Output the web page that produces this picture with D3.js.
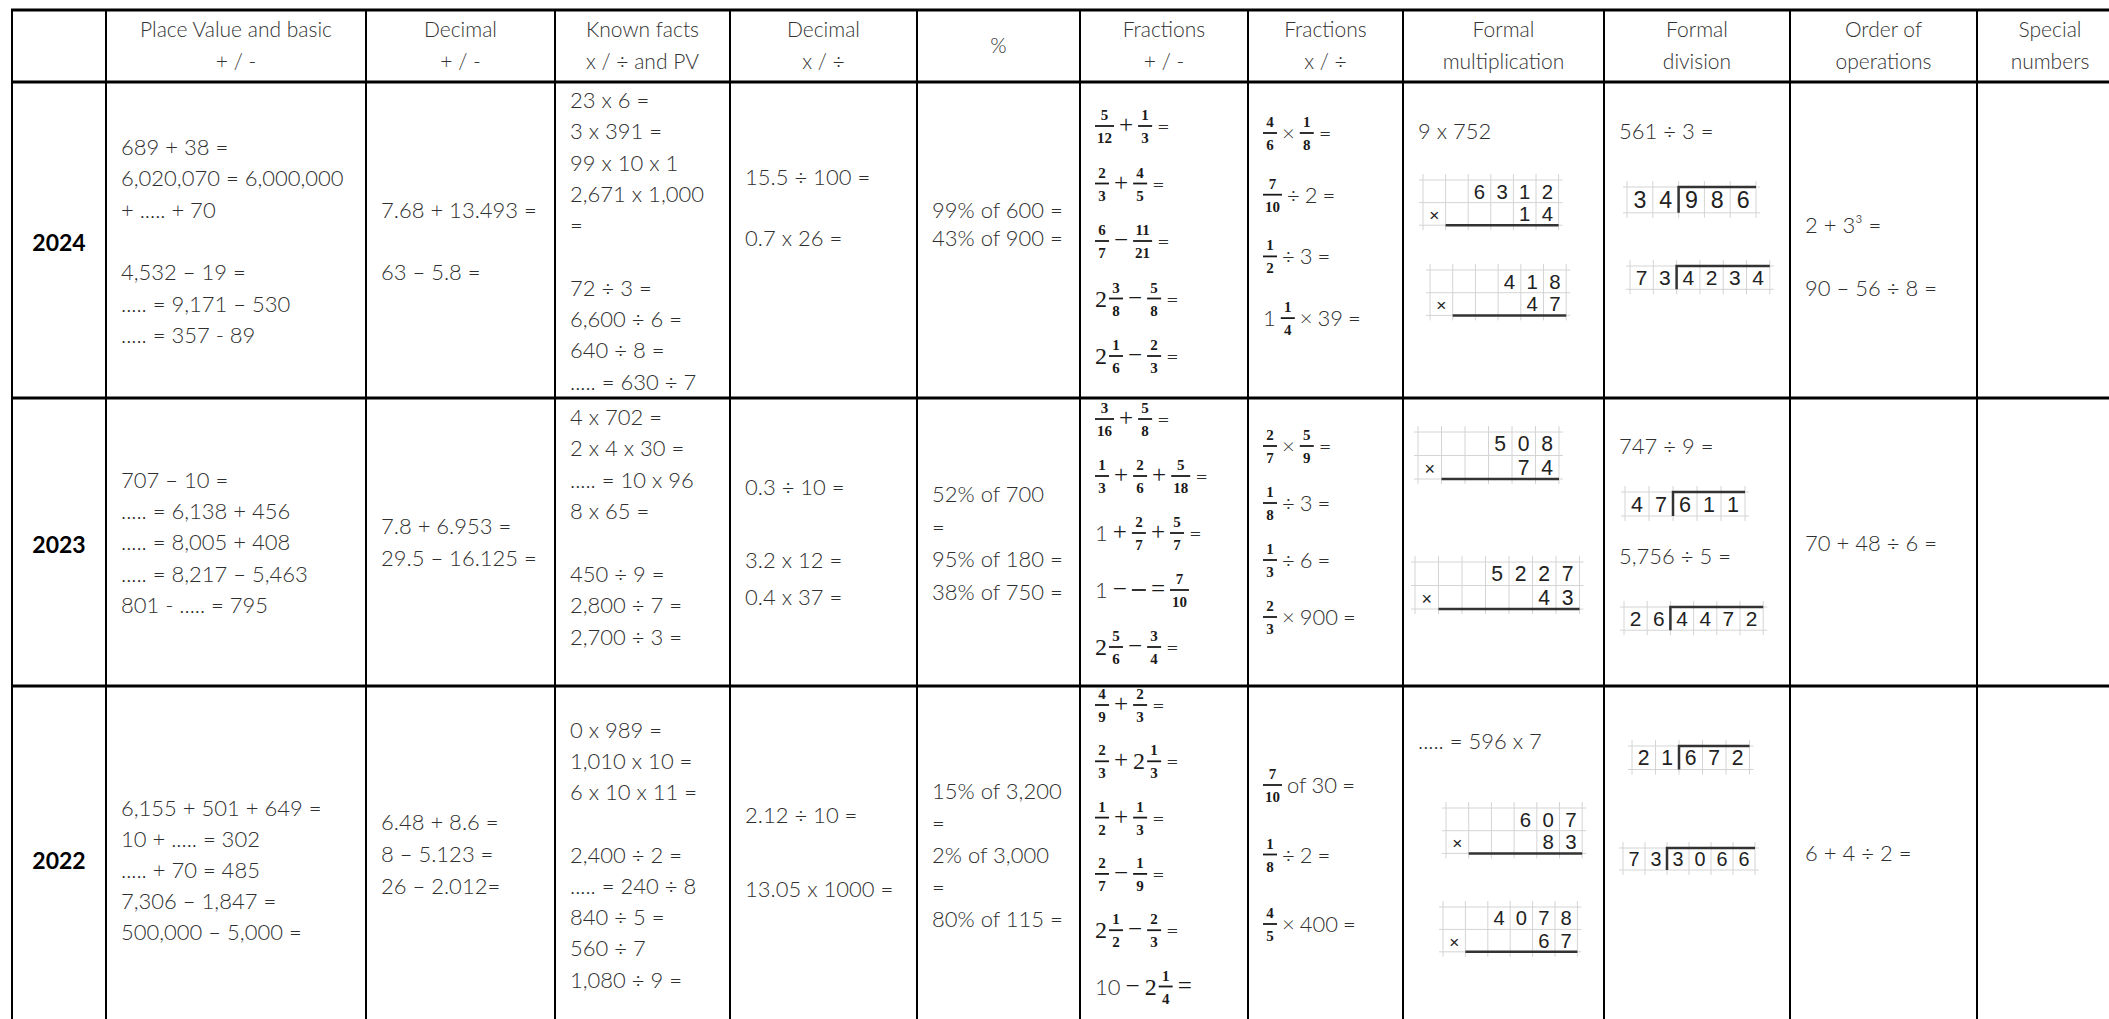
<!DOCTYPE html>
<html>
<head>
<meta charset="utf-8">
<title>Arithmetic questions by year</title>
<script src="https://cdn.jsdelivr.net/npm/d3@7/dist/d3.min.js"></script>
<style>
  body { margin: 0; background: #fff; }
  svg { display: block; }
  .body { font: 300 22px Lato, 'Open Sans', sans-serif; fill: #2f2f2f; }
  .head { font: 300 21px Lato, 'Open Sans', sans-serif; fill: #333; text-anchor: middle; }
  .year { font: 700 23px Lato, sans-serif; fill: #000; text-anchor: middle; }
  .frac { font: 700 15px 'Liberation Serif', serif; fill: #1a1a1a; text-anchor: middle; }
  .op { font: 400 25px 'Liberation Serif', serif; fill: #1a1a1a; }
  .whole { font: 400 24px 'Liberation Serif', serif; fill: #1a1a1a; }
  .gridnum { font: 400 20px 'Liberation Sans', Arial, sans-serif; fill: #222; text-anchor: middle; }
</style>
</head>
<body>
<div id="table"></div>
<script>
// ---- data ----
const years = ['2024', '2023', '2022'];

const headers = [
  [],
  ['Place Value and basic', '+ / -'],
  ['Decimal', '+ / -'],
  ['Known facts', 'x / ÷ and PV'],
  ['Decimal', 'x / ÷'],
  ['%'],
  ['Fractions', '+ / -'],
  ['Fractions', 'x / ÷'],
  ['Formal', 'multiplication'],
  ['Formal', 'division'],
  ['Order of', 'operations'],
  ['Special', 'numbers']
];

const placeValue = [
  ['689 + 38 =', '6,020,070 = 6,000,000', '+ ..... + 70', '', '4,532 – 19 =', '..... = 9,171 – 530', '..... = 357 - 89'],
  ['707 – 10 =', '..... = 6,138 + 456', '..... = 8,005 + 408', '..... = 8,217 – 5,463', '801 - ..... = 795'],
  ['6,155 + 501 + 649 =', '10 + ..... = 302', '..... + 70 = 485', '7,306 – 1,847 =', '500,000 – 5,000 =']
];

const decimalAddSub = [
  ['7.68 + 13.493 =', '', '63 – 5.8 ='],
  ['7.8 + 6.953 =', '29.5 – 16.125 ='],
  ['6.48 + 8.6 =', '8 – 5.123 =', '26 – 2.012=']
];

const knownFacts = [
  ['23 x 6 =', '3 x 391 =', '99 x 10 x 1', '2,671 x 1,000', '=', '', '72 ÷ 3 =', '6,600 ÷ 6 =', '640 ÷ 8 =', '..... = 630 ÷ 7'],
  ['4 x 702 =', '2 x 4 x 30 =', '..... = 10 x 96', '8 x 65 =', '', '450 ÷ 9 =', '2,800 ÷ 7 =', '2,700 ÷ 3 ='],
  ['0 x 989 =', '1,010 x 10 =', '6 x 10 x 11 =', '', '2,400 ÷ 2 =', '..... = 240 ÷ 8', '840 ÷ 5 =', '560 ÷ 7', '1,080 ÷ 9 =']
];

const decimalMulDiv = [
  ['15.5 ÷ 100 =', '', '0.7 x 26 ='],
  ['0.3 ÷ 10 =', '', '3.2 x 12 =', '0.4 x 37 ='],
  ['2.12 ÷ 10 =', '', '13.05 x 1000 =']
];

const percentages = [
  ['99% of 600 =', '43% of 900 ='],
  ['52% of 700', '=', '95% of 180 =', '38% of 750 ='],
  ['15% of 3,200', '=', '2% of 3,000', '=', '80% of 115 =']
];

// "a/b" fraction, "w_a/b" mixed number, "/" empty fraction, "=!" dark equals
const fractionAddSub = [
  ['5/12 + 1/3 =', '2/3 + 4/5 =', '6/7 − 11/21 =', '2_3/8 − 5/8 =', '2_1/6 − 2/3 ='],
  ['3/16 + 5/8 =', '1/3 + 2/6 + 5/18 =', '1 + 2/7 + 5/7 =', '1 − / =! 7/10', '2_5/6 − 3/4 ='],
  ['4/9 + 2/3 =', '2/3 + 2_1/3 =', '1/2 + 1/3 =', '2/7 − 1/9 =', '2_1/2 − 2/3 =', '10 − 2_1/4 =!']
];

const fractionMulDiv = [
  ['4/6 × 1/8 =', '7/10 ÷ 2 =', '1/2 ÷ 3 =', '1 1/4 × 39 ='],
  ['2/7 × 5/9 =', '1/8 ÷ 3 =', '1/3 ÷ 6 =', '2/3 × 900 ='],
  ['7/10 of 30 =', '1/8 ÷ 2 =', '4/5 × 400 =']
];

// arrays are column-method grids, one character per square
const formalMultiplication = [
  ['9 x 752', ['  6312', '×   14'], ['   418', '×   47']],
  [['   508', '×   74'], ['   5227', '×    43']],
  ['..... = 596 x 7', ['   607', '×   83'], ['  4078', '×   67']]
];

// "divisor|dividend" is a bus-stop grid
const formalDivision = [
  ['561 ÷ 3 =', '34|986', '73|4234'],
  ['747 ÷ 9 =', '47|611', '5,756 ÷ 5 =', '26|4472'],
  ['21|672', '73|3066']
];

const orderOfOperations = [
  ['2 + 3³ =', '', '90 – 56 ÷ 8 ='],
  ['70 + 48 ÷ 6 ='],
  ['6 + 4 ÷ 2 =']
];

const specialNumbers = [[], [], []];

// ---- layout ----
const width = 2109, height = 1019;
const tableLeft = 12, tableTop = 10;
const colWidths = [94, 260, 189, 175, 187, 163, 168, 155, 201, 186, 187, 146];
const rowHeights = [72, 316, 288, 344];
const pad = 15;

const columns = [
  { key: 'year' },
  { key: 'pv', cells: placeValue, kind: 'text' },
  { key: 'decAdd', cells: decimalAddSub, kind: 'text' },
  { key: 'known', cells: knownFacts, kind: 'text' },
  { key: 'decMul', cells: decimalMulDiv, kind: 'text' },
  { key: 'pct', cells: percentages, kind: 'text' },
  { key: 'fracAdd', cells: fractionAddSub, kind: 'expr' },
  { key: 'fracMul', cells: fractionMulDiv, kind: 'expr' },
  { key: 'mult', cells: formalMultiplication, kind: 'grid' },
  { key: 'div', cells: formalDivision, kind: 'grid' },
  { key: 'order', cells: orderOfOperations, kind: 'text' },
  { key: 'special', cells: specialNumbers, kind: 'text' }
];

// first line centre below the row top, and line step
const lineLayout = {
  pv: [[65, 31.3], [82, 31.2], [122, 31]],
  decAdd: [[128, 31], [128, 32], [136, 32]],
  known: [[18, 31.3], [19, 31.4], [44, 31.2]],
  decMul: [[95, 30.5], [89, 36.5], [129, 37]],
  pct: [[128, 28], [96, 32.7], [105, 32]],
  fracAdd: [[44, 57.5], [21, 57], [19, 56.3]],
  fracMul: [[51, 61.7], [48, 57], [99, 69.5]],
  order: [[143, 31.5], [145, 31], [167, 31]],
  special: [[0, 31], [0, 31], [0, 31]]
};

// per item: [left offset, top offset (text: centre), grid square size]
const itemLayout = {
  mult: [
    [[15, 49], [20, 98, 22.6], [27, 188, 22.7]],
    [[15, 34, 23.5], [12, 164, 23.5]],
    [[15, 55], [43, 122, 22.7], [40, 221, 22.4]]
  ],
  div: [
    [[15, 49], [23, 105, 25.8], [26, 184, 23.3]],
    [[15, 48], [21, 94, 24], [15, 158], [20, 209, 23.2]],
    [[28, 60, 23.5], [19, 162, 22]]
  ]
};

// ---- scales ----
const colKeys = columns.map(c => c.key);
const colEdges = [tableLeft, ...Array.from(d3.cumsum(colWidths), v => v + tableLeft)];
const x = d3.scaleOrdinal().domain(colKeys).range(colEdges);
const rowKeys = ['header', ...years];
const rowEdges = [tableTop, ...Array.from(d3.cumsum(rowHeights), v => v + tableTop)];
const y = d3.scaleOrdinal().domain(rowKeys).range(rowEdges);

const svg = d3.select('#table').append('svg')
  .attr('width', width)
  .attr('height', height);

// ---- helpers ----
function bodyText(g, str, px, cy, cls) {
  return g.append('text')
    .attr('class', cls || 'body')
    .attr('x', px)
    .attr('y', cy + 8)
    .text(str);
}

function drawFrac(g, num, den, x0, cy) {
  const n = g.append('text').attr('class', 'frac').attr('y', cy - 6).text(num);
  const d = g.append('text').attr('class', 'frac').attr('y', cy + 17).text(den);
  const w = Math.max(n.node().getComputedTextLength(), d.node().getComputedTextLength(), 10) + 4;
  n.attr('x', x0 + w / 2);
  d.attr('x', x0 + w / 2);
  g.append('line')
    .attr('x1', x0).attr('x2', x0 + w)
    .attr('y1', cy).attr('y2', cy)
    .attr('stroke', '#1a1a1a').attr('stroke-width', 1.8);
  return x0 + w;
}

function drawExpr(g, expr, x0, cy) {
  let cx = x0;
  expr.split(' ').forEach(tok => {
    let m;
    if ((m = tok.match(/^(\d+)_(\d*)\/(\d*)$/))) {
      const t = g.append('text').attr('class', 'whole').attr('x', cx).attr('y', cy + 8).text(m[1]);
      cx += t.node().getComputedTextLength() + 2;
      cx = drawFrac(g, m[2], m[3], cx, cy);
    } else if ((m = tok.match(/^(\d*)\/(\d*)$/))) {
      cx = drawFrac(g, m[1], m[2], cx, cy);
    } else if (tok === '+' || tok === '−' || tok === '=!') {
      const t = g.append('text').attr('class', 'op').attr('x', cx).attr('y', cy + 7)
        .text(tok === '=!' ? '=' : tok);
      cx += t.node().getComputedTextLength();
    } else {
      const t = bodyText(g, tok, cx, cy);
      cx += t.node().getComputedTextLength();
    }
    cx += 5;
  });
}

function drawGrid(g, chars, rows, left, top, s, split) {
  const n = chars[0].length;
  const gx = d3.scaleLinear().domain([0, n]).range([left, left + n * s]);
  const gy = d3.scaleLinear().domain([0, rows]).range([top, top + rows * s]);
  g.selectAll(null).data(d3.range(n + 1)).join('line')
    .attr('x1', i => gx(i)).attr('x2', i => gx(i))
    .attr('y1', gy(0) - 6).attr('y2', gy(rows) + 5)
    .attr('stroke', '#d4d4d4').attr('stroke-width', 1);
  g.selectAll(null).data(d3.range(rows + 1)).join('line')
    .attr('x1', gx(0) - 4).attr('x2', gx(n) + 4)
    .attr('y1', i => gy(i)).attr('y2', i => gy(i))
    .attr('stroke', '#d4d4d4').attr('stroke-width', 1);
  const fs = s * 0.9;
  chars.forEach((row, ri) => {
    row.split('').forEach((ch, ci) => {
      if (ch === ' ') return;
      g.append('text')
        .attr('class', 'gridnum')
        .attr('x', gx(ci + 0.5))
        .attr('y', gy(ri + 0.5) + fs * 0.36)
        .style('font-size', (ch === '×' ? fs * 0.85 : fs) + 'px')
        .text(ch);
    });
  });
  if (split == null) {
    // answer line under the multiplier
    g.append('line')
      .attr('x1', gx(1)).attr('x2', gx(n))
      .attr('y1', gy(rows)).attr('y2', gy(rows))
      .attr('stroke', '#333').attr('stroke-width', 2.5);
  } else {
    // bus-stop bracket
    g.append('path')
      .attr('d', `M${gx(split)},${gy(rows)}V${gy(0)}H${gx(n)}`)
      .attr('fill', 'none')
      .attr('stroke', '#333').attr('stroke-width', 2.5);
  }
}

// ---- header ----
const headG = svg.append('g');
columns.forEach((c, i) => {
  const lines = headers[i];
  const cx = x(c.key) + colWidths[i] / 2;
  const mid = y('header') + rowHeights[0] / 2;
  lines.forEach((ln, j) => {
    const cy = mid + (j - (lines.length - 1) / 2) * 32;
    bodyText(headG, ln, cx, cy - 1, 'head');
  });
});

// ---- body ----
years.forEach((yr, r) => {
  const top = y(yr);
  const rowG = svg.append('g');
  rowG.append('text')
    .attr('class', 'year')
    .attr('x', x('year') + colWidths[0] / 2)
    .attr('y', top + rowHeights[r + 1] / 2 + 11)
    .text(yr);

  columns.slice(1).forEach(c => {
    const left = x(c.key);
    const items = c.cells[r];
    if (c.kind === 'grid') {
      items.forEach((it, k) => {
        const [dx, dy, s] = itemLayout[c.key][r][k];
        if (Array.isArray(it)) {
          drawGrid(rowG, it, it.length, left + dx, top + dy, s, null);
        } else if (it.includes('|')) {
          const [divisor, dividend] = it.split('|');
          drawGrid(rowG, [divisor + dividend], 1, left + dx, top + dy, s, divisor.length);
        } else {
          bodyText(rowG, it, left + dx, top + dy);
        }
      });
      return;
    }
    const [y0, step] = lineLayout[c.key][r];
    items.forEach((ln, k) => {
      if (ln === '') return;
      const cy = top + y0 + k * step;
      if (c.kind === 'expr') drawExpr(rowG, ln, left + pad, cy);
      else bodyText(rowG, ln, left + pad, cy);
    });
  });
});

// ---- borders ----
const tableRight = colEdges[colEdges.length - 1];
const tableBottom = rowEdges[rowEdges.length - 1];
svg.append('g').selectAll('line').data(colEdges).join('line')
  .attr('x1', d => d).attr('x2', d => d)
  .attr('y1', tableTop).attr('y2', tableBottom)
  .attr('stroke', '#000').attr('stroke-width', 2);
svg.append('g').selectAll('line').data(rowEdges).join('line')
  .attr('x1', tableLeft - 1).attr('x2', tableRight)
  .attr('y1', d => d).attr('y2', d => d)
  .attr('stroke', '#000').attr('stroke-width', 3);
</script>
</body>
</html>
